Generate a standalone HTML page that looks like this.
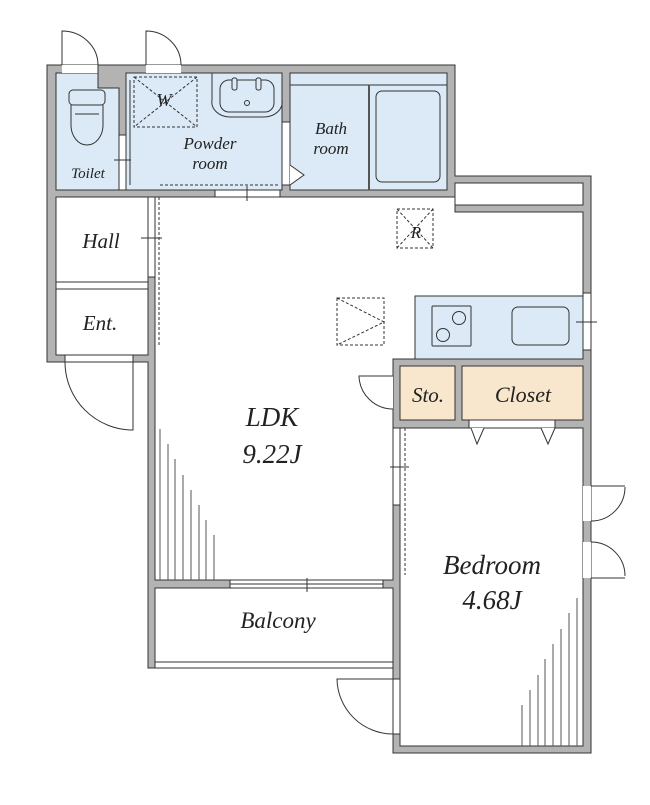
<!DOCTYPE html>
<html><head><meta charset="utf-8"><style>
html,body{margin:0;padding:0;background:#fff}
text{font-family:"Liberation Serif",serif;font-style:italic;fill:#222}
</style></head><body>
<svg width="650" height="800" viewBox="0 0 650 800" xmlns="http://www.w3.org/2000/svg">
<g stroke="#333" stroke-width="1">
<path d="M47 65 H455 V176 H591 V753 H393 V668 H148 V362 H47 Z" fill="#b3b3b3"/>
<path d="M56 73 H98 V88 H119 V190 H56 Z" fill="#dbeaf6"/>
<rect x="126" y="73" width="156" height="117" fill="#dbeaf6"/>
<rect x="290" y="73" width="157" height="117" fill="#dbeaf6"/>
<path d="M155 197 H455 V212 H583 V296 H415 V359 H393 V580 H155 Z" fill="#fff"/>
<rect x="455" y="183" width="128" height="22" fill="#fff"/>
<rect x="56" y="197" width="92" height="158" fill="#fff"/>
<rect x="415" y="296" width="168" height="63" fill="#dbeaf6"/>
<rect x="400" y="366" width="55" height="54" fill="#f8e6cd"/>
<rect x="462" y="366" width="121" height="54" fill="#f8e6cd"/>
<rect x="400" y="428" width="183" height="318" fill="#fff"/>
<rect x="155" y="588" width="238" height="80" fill="#fff"/>
</g>
<g stroke="#333" stroke-width="1" fill="none">
<line x1="56" y1="282" x2="148" y2="282"/>
<line x1="56" y1="289" x2="148" y2="289"/>
<rect x="62" y="65" width="36" height="8" fill="#fff" stroke="none"/>
<rect x="146" y="65" width="35" height="8" fill="#fff" stroke="none"/>
<path d="M62 65 V31 A36 34 0 0 1 98 65 V88"/>
<path d="M146 65 V31 A35 34 0 0 1 181 65"/>
<rect x="119" y="135" width="7" height="55" fill="#fff"/>
<line x1="114" y1="160" x2="131" y2="160"/>
<rect x="282" y="122" width="8" height="63" fill="#fff"/>
<path d="M290 165 L304 175 L290 185" fill="#fff"/>
<rect x="215" y="190" width="65" height="7" fill="#fff"/>
<line x1="247" y1="186" x2="247" y2="201"/>
<line x1="160" y1="185" x2="280" y2="185" stroke-dasharray="3 2"/>
<line x1="130" y1="80" x2="130" y2="185"/>
<rect x="134" y="77" width="63" height="50" stroke-dasharray="3 2"/>
<path d="M134 77 L197 127 M197 77 L134 127" stroke-dasharray="3 2"/>
<path d="M212 73 V100 A18 15 0 0 0 230 117 H264 A18 15 0 0 0 282 100"/>
<rect x="220" y="80" width="54" height="32" rx="9"/>
<rect x="232" y="78" width="5" height="12" rx="2" fill="#dbeaf6"/>
<rect x="256" y="78" width="5" height="12" rx="2" fill="#dbeaf6"/>
<circle cx="247" cy="103" r="2.5"/>
<line x1="290" y1="85" x2="447" y2="85"/>
<line x1="369" y1="85" x2="369" y2="190" stroke="#555" stroke-width="2"/>
<rect x="376" y="91" width="64" height="91" rx="6"/>
<rect x="69" y="90" width="36" height="15" rx="4"/>
<path d="M71 105 V125 A16 20 0 0 0 103 125 V105"/>
<line x1="75" y1="114" x2="99" y2="114"/>
<rect x="148" y="197" width="7" height="80" fill="#fff"/>
<line x1="141" y1="238" x2="162" y2="238"/>
<line x1="159" y1="197" x2="159" y2="345" stroke-dasharray="3 2"/>
<rect x="65" y="355" width="68" height="7" fill="#fff"/>
<path d="M65 362 A68 68 0 0 0 133 430 V362"/>
<rect x="397" y="209" width="36" height="39" stroke-dasharray="3 2"/>
<path d="M397 209 L433 248 M433 209 L397 248" stroke-dasharray="3 2"/>
<rect x="337" y="298" width="47" height="47" stroke-dasharray="3 2"/>
<path d="M337 298 L384 322 L337 345" stroke-dasharray="3 2"/>
<rect x="432" y="306" width="39" height="40" rx="1"/>
<circle cx="443" cy="335" r="6.5"/>
<circle cx="459" cy="318" r="6.5"/>
<rect x="512" y="307" width="57" height="38" rx="6"/>
<rect x="583" y="293" width="8" height="57" fill="#fff"/>
<line x1="576" y1="322" x2="597" y2="322"/>
<rect x="388" y="376" width="5" height="33" fill="#fff" stroke="none"/>
<path d="M393 376 H359 A34 34 0 0 0 393 409"/>
<rect x="469" y="420" width="86" height="8" fill="#fff"/>
<path d="M471 428 L477 444 L484 428 M541 428 L548 444 L555 428" fill="#fff"/>
<rect x="393" y="428" width="7" height="77" fill="#fff"/>
<line x1="390" y1="467" x2="409" y2="467"/>
<line x1="405" y1="428" x2="405" y2="575" stroke-dasharray="3 2"/>
<rect x="230" y="580" width="153" height="8" fill="#fff"/>
<line x1="230" y1="584" x2="383" y2="584"/>
<line x1="307" y1="578" x2="307" y2="592"/>
<line x1="155" y1="662" x2="393" y2="662"/>
<rect x="583" y="486" width="8" height="35" fill="#fff" stroke="none"/>
<path d="M591 486 H625 M591 521 A34 34 0 0 0 625 487"/>
<rect x="583" y="542" width="8" height="36" fill="#fff" stroke="none"/>
<path d="M591 578 H625 M591 542 A34 34 0 0 1 625 576"/>
<rect x="393" y="679" width="7" height="55" fill="#fff"/>
<path d="M393 679 H337 A56 56 0 0 0 393 734"/>
</g>
<g stroke="#555" stroke-width="1">
<line x1="160" y1="429" x2="160" y2="580"/><line x1="168" y1="444" x2="168" y2="580"/>
<line x1="175" y1="459" x2="175" y2="580"/><line x1="183" y1="475" x2="183" y2="580"/>
<line x1="191" y1="490" x2="191" y2="580"/><line x1="199" y1="505" x2="199" y2="580"/>
<line x1="206" y1="520" x2="206" y2="580"/><line x1="214" y1="535" x2="214" y2="580"/>
<line x1="577" y1="598" x2="577" y2="746"/><line x1="569" y1="613" x2="569" y2="746"/>
<line x1="561" y1="629" x2="561" y2="746"/><line x1="553" y1="644" x2="553" y2="746"/>
<line x1="545" y1="659" x2="545" y2="746"/><line x1="538" y1="675" x2="538" y2="746"/>
<line x1="530" y1="690" x2="530" y2="746"/><line x1="522" y1="705" x2="522" y2="746"/>
</g>
<g text-anchor="middle">
<text x="88" y="178" font-size="15">Toilet</text>
<text x="164" y="106" font-size="18">W</text>
<text x="210" y="149" font-size="17">Powder</text>
<text x="210" y="169" font-size="17">room</text>
<text x="331" y="134" font-size="17">Bath</text>
<text x="331" y="154" font-size="17">room</text>
<text x="101" y="248" font-size="21">Hall</text>
<text x="100" y="330" font-size="21">Ent.</text>
<text x="416" y="238" font-size="17">R</text>
<text x="272" y="426" font-size="27">LDK</text>
<text x="272" y="463" font-size="27">9.22J</text>
<text x="428" y="402" font-size="21">Sto.</text>
<text x="523" y="402" font-size="22">Closet</text>
<text x="492" y="574" font-size="27">Bedroom</text>
<text x="492" y="609" font-size="27">4.68J</text>
<text x="278" y="628" font-size="23">Balcony</text>
</g>
</svg>
</body></html>
